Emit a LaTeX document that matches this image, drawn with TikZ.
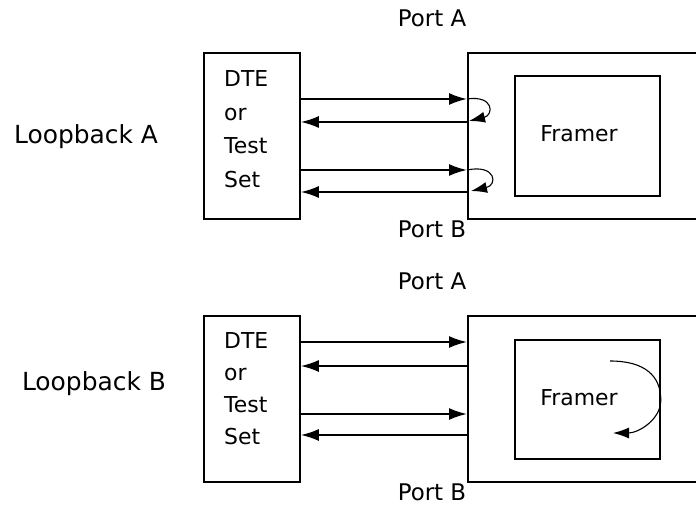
\documentclass[tikz,border=0pt]{standalone}
\usepackage{fontspec}
\setmainfont{DejaVu Sans}
\usetikzlibrary{arrows.meta}
\begin{document}
\begin{tikzpicture}[x=1bp,y=-1bp,
  lbl/.style={font=\fontsize{22}{26}\selectfont, inner sep=0},
  port/.style={font=\fontsize{23}{27}\selectfont, inner sep=0},
  loopl/.style={font=\fontsize{25}{29}\selectfont, inner sep=0},
  dtl/.style={lbl, anchor=base west},
  box/.style={draw, line width=1.8bp, inner sep=0, anchor=north west},
  sig/.style={line width=1.9bp, -{Latex[length=18bp,width=12bp]}},
  lp/.style={line width=1.1bp, -{Latex[length=16bp,width=11bp]}}]
\useasboundingbox (0,0) rectangle (696,506);
% ---------- Loopback A ----------
\node[port] (portA1) at (432,18) {Port A};
\node[port] (portB1) at (432,229) {Port B};
\node[loopl] (lbA) at (86,137) {Loopback A};
\node[box, minimum width=96bp, minimum height=166bp] (dte1) at (203,52) {};
\node[dtl] (d1a) at (224,87) {DTE};
\node[dtl] (d1b) at (224,121) {or};
\node[dtl] (d1c) at (224,154) {Test};
\node[dtl] (d1d) at (224,188) {Set};
\node[box, minimum width=234bp, minimum height=166bp] (out1) at (467,52) {};
\node[box, minimum width=145bp, minimum height=120bp] (fr1) at (514,75) {};
\node[lbl] (frt1) at (579,134) {Framer};
\coordinate (ya1) at (0,99);
\coordinate (ya2) at (0,122);
\coordinate (ya3) at (0,170);
\coordinate (ya4) at (0,192);
\draw[sig] (dte1.east |- ya1) -- (out1.west |- ya1);
\draw[sig] (out1.west |- ya2) -- (dte1.east |- ya2);
\draw[sig] (dte1.east |- ya3) -- (out1.west |- ya3);
\draw[sig] (out1.west |- ya4) -- (dte1.east |- ya4);
\draw[lp] (out1.west |- ya1) .. controls +(27,-4) and +(25,-6) .. ([xshift=2bp,yshift=1bp]out1.west |- ya2);
\draw[lp] (out1.west |- ya3) .. controls +(29,-6) and +(27,-6) .. ([xshift=4bp,yshift=1bp]out1.west |- ya4);
% ---------- Loopback B ----------
\node[port] (portA2) at (432,281) {Port A};
\node[port] (portB2) at (432,492) {Port B};
\node[loopl] (lbB) at (94,384) {Loopback B};
\node[box, minimum width=96bp, minimum height=166bp] (dte2) at (203,315) {};
\node[dtl] (d2a) at (224,348) {DTE};
\node[dtl] (d2b) at (224,380) {or};
\node[dtl] (d2c) at (224,412) {Test};
\node[dtl] (d2d) at (224,444) {Set};
\node[box, minimum width=234bp, minimum height=166bp] (out2) at (467,315) {};
\node[box, minimum width=145bp, minimum height=119bp] (fr2) at (514,339) {};
\node[lbl] (frt2) at (579,398) {Framer};
\coordinate (yb1) at (0,342);
\coordinate (yb2) at (0,366);
\coordinate (yb3) at (0,414);
\coordinate (yb4) at (0,435);
\draw[sig] (dte2.east |- yb1) -- (out2.west |- yb1);
\draw[sig] (out2.west |- yb2) -- (dte2.east |- yb2);
\draw[sig] (dte2.east |- yb3) -- (out2.west |- yb3);
\draw[sig] (out2.west |- yb4) -- (dte2.east |- yb4);
\coordinate (cs) at (610,361);
\coordinate (cm) at (fr2.east |- 0,400);
\coordinate (ce) at (613,433);
\draw[lp] (cs) .. controls +(35,0) and +(0,-24) .. (cm) .. controls +(0,20) and +(25,0) .. (ce);
\end{tikzpicture}
\end{document}
